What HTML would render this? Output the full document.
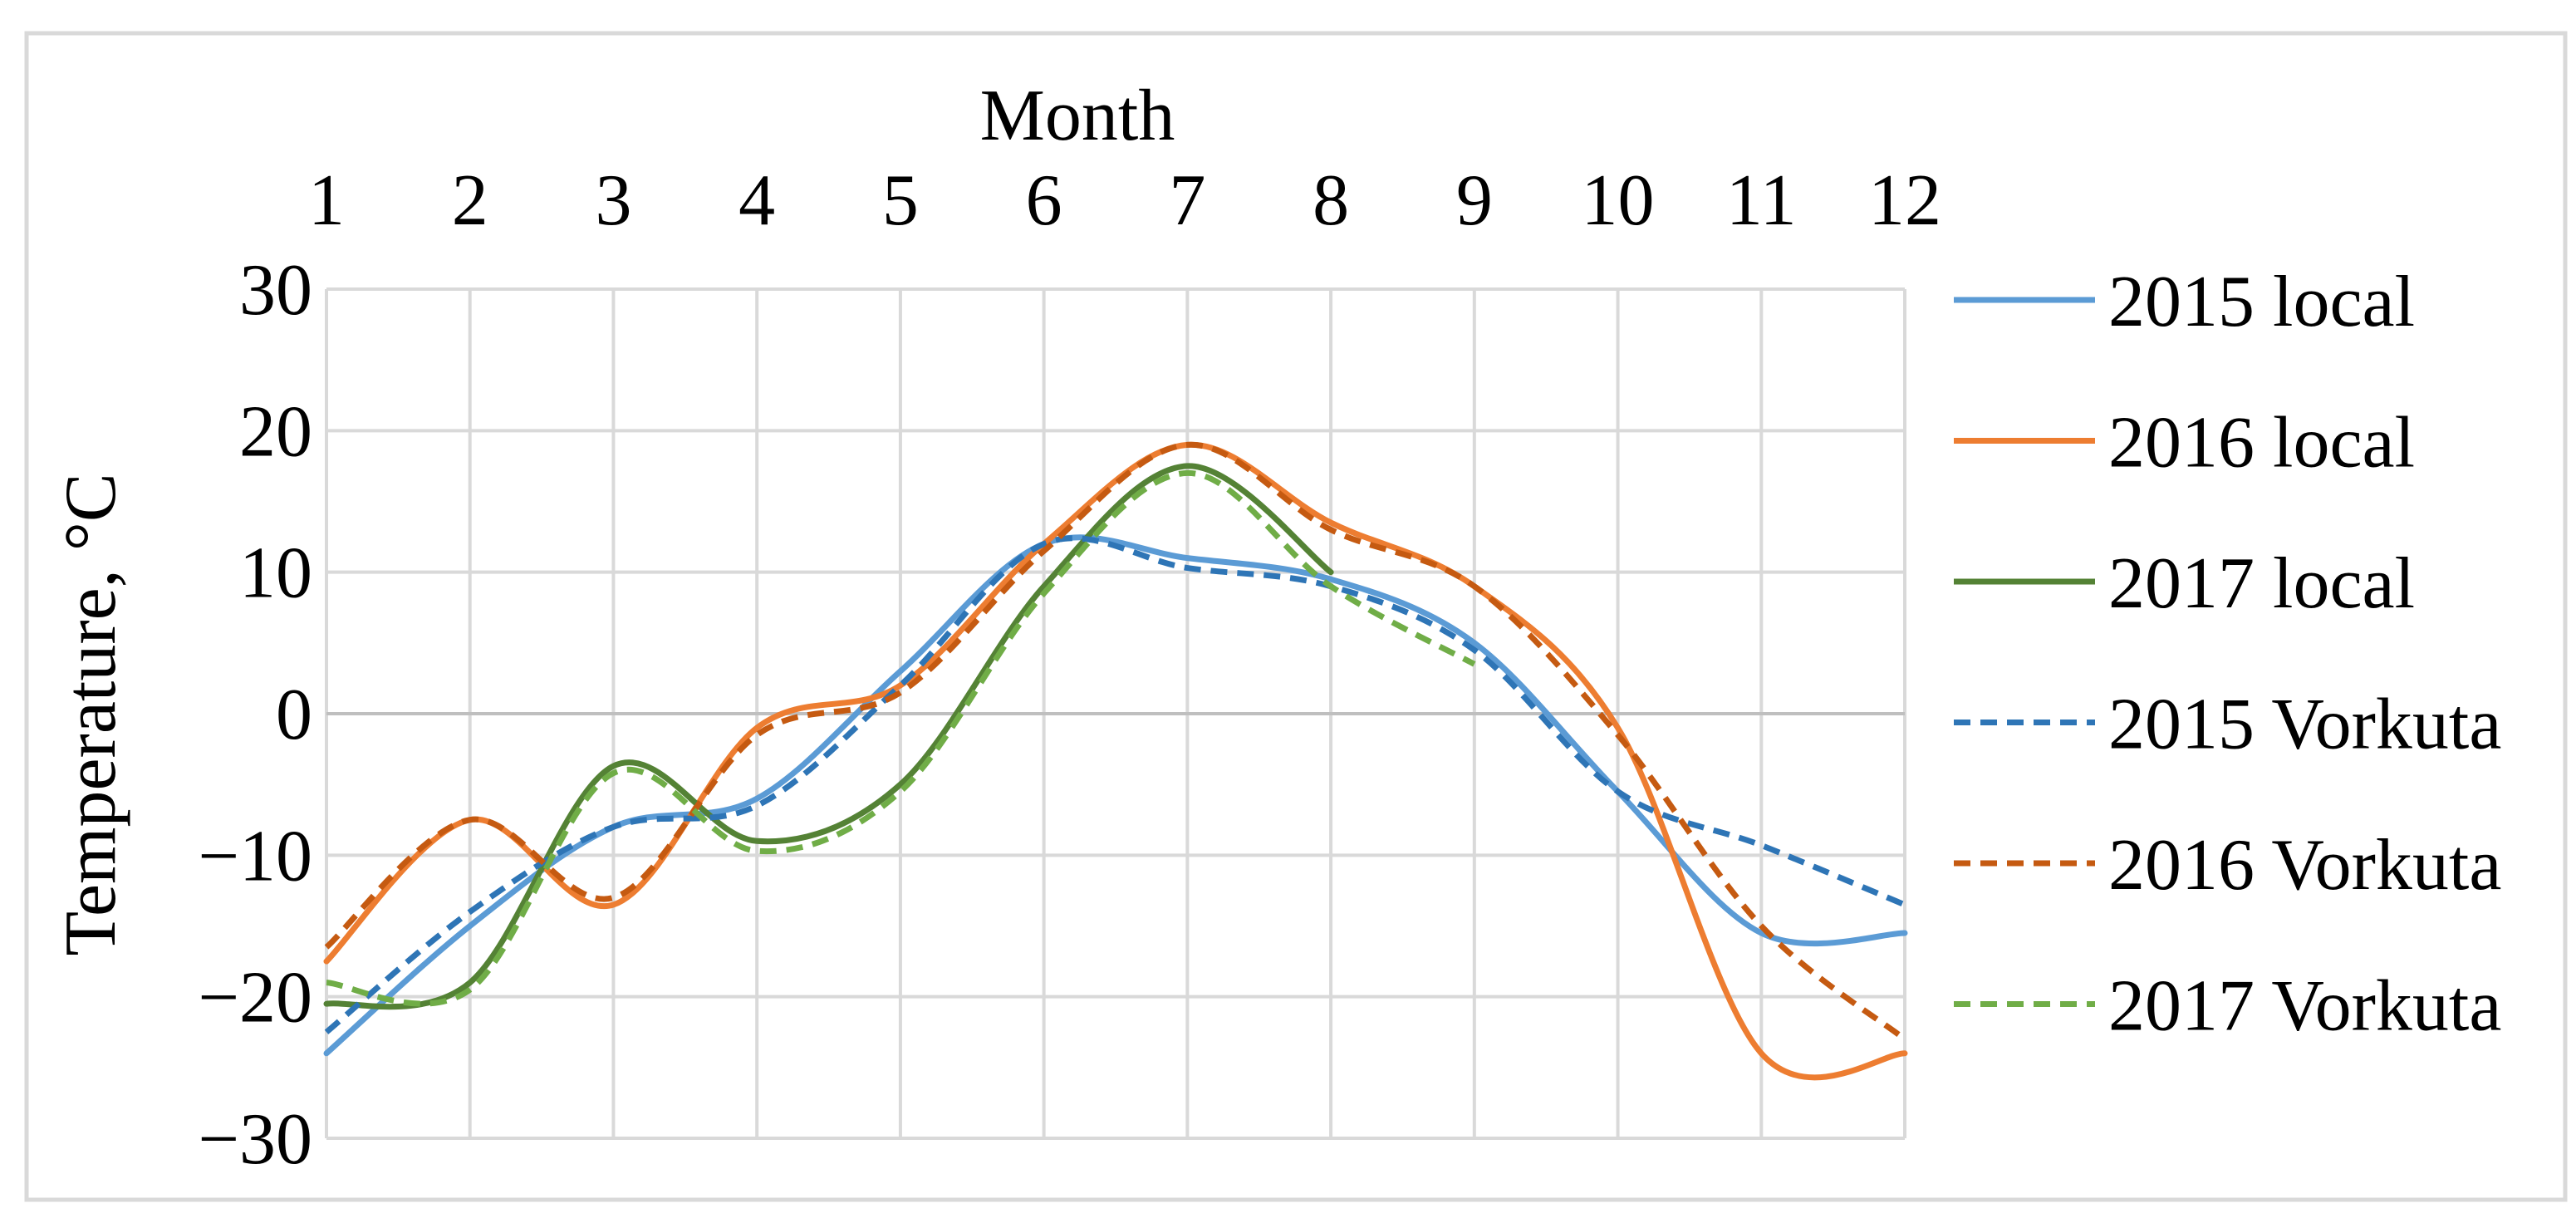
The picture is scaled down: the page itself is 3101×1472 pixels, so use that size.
<!DOCTYPE html>
<html><head><meta charset="utf-8"><style>
html,body{margin:0;padding:0;background:#fff}
svg{display:block}
text{font-family:"Liberation Serif",serif;fill:#000}
</style></head><body>
<svg id="chart" width="3101" height="1472" viewBox="0 0 3101 1472" xmlns="http://www.w3.org/2000/svg">
<rect x="32" y="40" width="3056" height="1404" fill="#fff" stroke="#d9d9d9" stroke-width="5"/>
<g id="grid"></g>
<g id="series"></g>
<g id="axes"></g>
<g id="legend"></g>
</svg>
<script>
const months=[1,2,3,4,5,6,7,8,9,10,11,12];
const yTicks=[30,20,10,0,-10,-20,-30];
const yTickLabels=["30","20","10","0","\u221210","\u221220","\u221230"];
const names=["2015 local","2016 local","2017 local","2015 Vorkuta","2016 Vorkuta","2017 Vorkuta"];
const local2015=[-24,-15,-8,-6,3,12,11,9.5,5,-5.5,-15.5,-15.5];
const local2016=[-17.5,-7.5,-13.5,-1,2,12,19,13.5,9,-1,-24,-24];
const local2017=[-20.5,-19,-3.7,-9,-5,9,17.5,10];
const vork2015=[-22.5,-14,-8,-6.5,2,12,10.3,9,4.5,-5.5,-9.3,-13.5];
const vork2016=[-16.5,-7.5,-13,-1.5,1.5,11.5,19,13,9,-1.5,-15,-23];
const vork2017=[-19,-19.5,-4.2,-9.7,-5.5,8.5,17,9,3.5];
const seriesData=[local2015,local2016,local2017,vork2015,vork2016,vork2017];
const colors=["#5B9BD5","#ED7D31","#548235","#2E75B6","#C55A11","#70AD47"];
const dashed=[false,false,false,true,true,true];
const seriesNames=["series-2015-local","series-2016-local","series-2017-local","series-2015-vorkuta","series-2016-vorkuta","series-2017-vorkuta"];

const X0=393,X1=2293,Y0=348,Y1=1370;
const xs=m=>X0+(m-1)*(X1-X0)/11;
const ys=v=>Y0+(30-v)*(Y1-Y0)/60;
const NS="http://www.w3.org/2000/svg";
function mk(tag,attrs,parent){const e=document.createElementNS(NS,tag);for(const k in attrs)e.setAttribute(k,attrs[k]);parent.appendChild(e);return e;}
const grid=document.getElementById('grid'),axes=document.getElementById('axes'),ser=document.getElementById('series'),leg=document.getElementById('legend');

months.forEach((m,i)=>{
  const l=mk('line',{x1:xs(m),x2:xs(m),y1:Y0,y2:Y1,stroke:'#d9d9d9','stroke-width':4},grid);
  
  
  const t=mk('text',{x:xs(m),y:270,'text-anchor':'middle','font-size':88},axes);
  t.textContent=String(m);
  
  
});
yTicks.forEach((v,i)=>{
  const l=mk('line',{x1:X0,x2:X1,y1:ys(v),y2:ys(v),stroke:v===0?'#bfbfbf':'#d9d9d9','stroke-width':4},grid);
  
  
  const t=mk('text',{x:376,y:ys(v)+30,'text-anchor':'end','font-size':88},axes);
  t.textContent=yTickLabels[i];
  
  
});
const mt=mk('text',{x:1297,y:168,'text-anchor':'middle','font-size':88},axes);
mt.textContent='Month';


const yt=mk('text',{x:0,y:0,'text-anchor':'middle','font-size':88,transform:'translate(138,860) rotate(-90)'},axes);
yt.textContent='Temperature,  \u00B0C';



function smoothPath(vals){
  const p=vals.map((v,i)=>[xs(months[i]),ys(v)]);
  let d='M'+p[0][0]+','+p[0][1];
  for(let i=0;i<p.length-1;i++){
    const p0=p[i-1]||p[i],p1=p[i],p2=p[i+1],p3=p[i+2]||p[i+1];
    const t=1/6;
    const c1=[p1[0]+(p2[0]-p0[0])*t,p1[1]+(p2[1]-p0[1])*t];
    const c2=[p2[0]-(p3[0]-p1[0])*t,p2[1]-(p3[1]-p1[1])*t];
    d+=' C'+c1[0]+','+c1[1]+' '+c2[0]+','+c2[1]+' '+p2[0]+','+p2[1];
  }
  return d;
}
seriesData.forEach((vals,i)=>{
  const a={d:smoothPath(vals),fill:'none',stroke:colors[i],'stroke-width':7,'stroke-linecap':dashed[i]?'butt':'round'};
  if(dashed[i])a['stroke-dasharray']='20,12';
  const p=mk('path',a,ser);
  
  
});
names.forEach((n,i)=>{
  const y=361+i*169.5;
  const a={x1:2352,x2:2522,y1:y,y2:y,stroke:colors[i],'stroke-width':7};
  if(dashed[i])a['stroke-dasharray']='20,12';
  const l=mk('line',a,leg);
  
  
  const t=mk('text',{x:2538,y:y+31,'font-size':88},leg);
  t.textContent=n;
  
  
});
</script>
</body></html>
